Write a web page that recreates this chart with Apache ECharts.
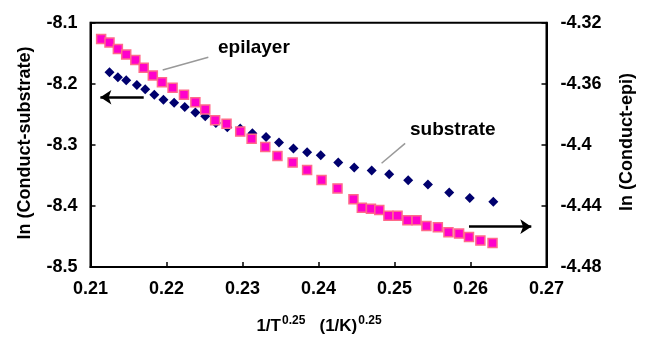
<!DOCTYPE html>
<html>
<head>
<meta charset="utf-8">
<script src="https://cdn.jsdelivr.net/npm/echarts@6/dist/echarts.min.js"></script>
<style>html,body{margin:0;padding:0;background:#fff;}#c{width:646px;height:338px;}</style>
</head>
<body>
<div id="c"></div>
<script>
var xTicks = [0.21, 0.22, 0.23, 0.24, 0.25, 0.26, 0.27];
var leftTicks = [-8.5, -8.4, -8.3, -8.2, -8.1];
var rightTicks = [-4.48, -4.44, -4.4, -4.36, -4.32];

var substrateX = [0.2125,0.2136,0.2147,0.2161,0.2172,0.2184,0.2196,0.2210,0.2224,0.2238,0.2251,0.2265,0.2280,0.2297,0.2313,0.2331,0.2348,0.2367,0.2385,0.2403,0.2426,0.2447,0.2470,0.2493,0.2518,0.2544,0.2572,0.2599,0.2630];
var substrateY = [-8.181,-8.189,-8.194,-8.202,-8.209,-8.218,-8.226,-8.231,-8.238,-8.247,-8.253,-8.264,-8.271,-8.273,-8.281,-8.287,-8.296,-8.306,-8.312,-8.317,-8.329,-8.337,-8.342,-8.348,-8.358,-8.365,-8.378,-8.387,-8.393];

var epiX = [0.2114,0.2125,0.2136,0.2147,0.2159,0.2170,0.2182,0.2194,0.2208,0.2223,0.2238,0.2251,0.2264,0.2279,0.2297,0.2312,0.2330,0.2346,0.2366,0.2385,0.2404,0.2425,0.2446,0.2457,0.2469,0.2480,0.2492,0.2504,0.2517,0.2529,0.2542,0.2557,0.2571,0.2585,0.2598,0.2613,0.2629];
var epiY = [-4.3306,-4.3329,-4.3372,-4.3408,-4.3444,-4.3495,-4.3545,-4.3589,-4.3625,-4.3671,-4.3720,-4.3768,-4.3839,-4.3861,-4.3913,-4.3960,-4.4013,-4.4072,-4.4116,-4.4164,-4.4230,-4.4285,-4.4356,-4.4411,-4.4418,-4.4426,-4.4464,-4.4464,-4.4494,-4.4494,-4.4531,-4.4539,-4.4572,-4.4581,-4.4604,-4.4627,-4.4642];

var leftArrow = [[0.2170, -8.222], [0.2113, -8.222]];
var rightArrow = [[0.2598, -8.434], [0.2680, -8.434]];
var epiLeader = [[0.2195, -8.1773], [0.2255, -8.1565]];
var subLeader = [[0.2483, -8.3301], [0.2514, -8.2974]];

function zip(a, b) { return a.map(function (v, i) { return [v, b[i]]; }); }

var FONT = '"Liberation Sans", Arial, sans-serif';
var chart = echarts.init(document.getElementById('c'), null, {renderer: 'canvas'});

var arrowStyle = {color: '#000', width: 2.5, type: 'solid'};
var leaderStyle = {color: '#999', width: 1.5, type: 'solid'};

chart.setOption({
  animation: false,
  backgroundColor: '#fff',
  grid: {left: 90.5, right: 99.5, top: 22.8, bottom: 71, show: true, borderColor: '#000', borderWidth: 2, backgroundColor: 'transparent'},
  xAxis: {
    type: 'value', min: xTicks[0], max: xTicks[xTicks.length - 1], interval: 0.01,
    axisLine: {show: true, onZero: false, lineStyle: {color: '#000', width: 2}},
    axisTick: {show: true, inside: true, length: 5, lineStyle: {color: '#000', width: 1.5}},
    splitLine: {show: false},
    axisLabel: {show: true, margin: 13, color: '#000', fontFamily: FONT, fontWeight: 'bold', fontSize: 18,
      formatter: function (v) { return v.toFixed(2); }}
  },
  yAxis: [{
    type: 'value', position: 'left', min: leftTicks[0], max: leftTicks[leftTicks.length - 1], interval: 0.1,
    axisLine: {show: true, onZero: false, lineStyle: {color: '#000', width: 2}},
    axisTick: {show: true, inside: true, length: 5, lineStyle: {color: '#000', width: 1.5}},
    splitLine: {show: false},
    axisLabel: {show: true, margin: 13, color: '#000', fontFamily: FONT, fontWeight: 'bold', fontSize: 18,
      formatter: function (v) { return v.toFixed(1); }}
  }, {
    type: 'value', position: 'right', min: rightTicks[0], max: rightTicks[rightTicks.length - 1], interval: 0.04,
    axisLine: {show: true, onZero: false, lineStyle: {color: '#000', width: 2}},
    axisTick: {show: true, inside: true, length: 5, lineStyle: {color: '#000', width: 1.5}},
    splitLine: {show: false},
    axisLabel: {show: true, margin: 14, color: '#000', fontFamily: FONT, fontWeight: 'bold', fontSize: 18,
      formatter: function (v) { return String(parseFloat(v.toFixed(2))); }}
  }],
  series: [{
    name: 'substrate', type: 'scatter', yAxisIndex: 0,
    data: zip(substrateX, substrateY),
    symbol: 'diamond', symbolSize: [10, 10],
    itemStyle: {color: '#00006e', opacity: 1},
    z: 3,
    markLine: {
      silent: true, animation: false, symbol: ['none', 'arrow'], symbolSize: [11, 11],
      label: {show: false},
      lineStyle: arrowStyle,
      data: [
        [{coord: leftArrow[0], lineStyle: arrowStyle}, {coord: leftArrow[1]}],
        [{coord: rightArrow[0], lineStyle: arrowStyle}, {coord: rightArrow[1]}],
        [{coord: epiLeader[0], symbol: 'none', lineStyle: leaderStyle}, {coord: epiLeader[1], symbol: 'none'}],
        [{coord: subLeader[0], symbol: 'none', lineStyle: leaderStyle}, {coord: subLeader[1], symbol: 'none'}]
      ]
    }
  }, {
    name: 'epilayer', type: 'scatter', yAxisIndex: 1,
    data: zip(epiX, epiY),
    symbol: 'rect', symbolSize: 9,
    itemStyle: {color: '#ff00cc', borderColor: '#ff6a8a', borderWidth: 1.5, opacity: 1},
    z: 4
  }],
  graphic: [
    {type: 'text', left: 218, top: 38, style: {text: 'epilayer', font: 'bold 19px ' + FONT, fill: '#000'}},
    {type: 'text', left: 410, top: 120, style: {text: 'substrate', font: 'bold 19px ' + FONT, fill: '#000'}},
    {type: 'text', x: 25, y: 143, rotation: Math.PI / 2,
      style: {text: 'ln (Conduct-substrate)', font: 'bold 18px ' + FONT, fill: '#000', align: 'center', verticalAlign: 'middle'}},
    {type: 'text', x: 627, y: 142, rotation: Math.PI / 2,
      style: {text: 'ln (Conduct-epi)', font: 'bold 18px ' + FONT, fill: '#000', align: 'center', verticalAlign: 'middle'}},
    {type: 'text', x: 319, y: 326,
      style: {
        text: '1/T{sup|0.25}   (1/K){sup|0.25}',
        align: 'center', verticalAlign: 'middle', fill: '#000',
        font: 'bold 17px ' + FONT,
        rich: {sup: {fontSize: 12, fontWeight: 'bold', fontFamily: FONT, verticalAlign: 'bottom', padding: [0, 0, 10, 1], fill: '#000'}}
      }}
  ]
});
</script>
</body>
</html>
